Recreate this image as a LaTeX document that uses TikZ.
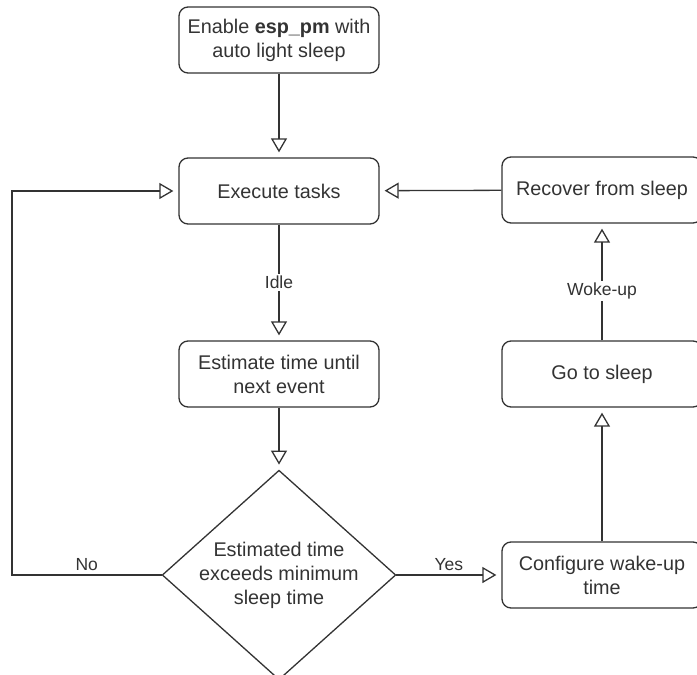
\documentclass[tikz,border=0pt]{standalone}
\usepackage{fontspec}
\setmainfont{Liberation Sans}
\usetikzlibrary{shapes.geometric,arrows.meta}
\definecolor{lineblack}{HTML}{333333}

\begin{document}
\begin{tikzpicture}[x=1pt,y=-1pt,
		box/.style={draw=lineblack, line width=1.3pt, rounded corners=9pt, minimum width=200pt, minimum height=66pt, align=center, text=lineblack, font=\fontsize{19.8}{24}\selectfont},
		decision/.style={diamond, draw=lineblack, line width=1.3pt, aspect=1.115, inner sep=0pt, minimum width=223pt, minimum height=200pt, align=center, text=lineblack, font=\fontsize{19.8}{24}\selectfont},
		flow/.style={draw=lineblack, line width=1.3pt, shorten >=5pt, -{Triangle[open,length=14pt,width=16pt]}},
		edgelabel/.style={fill=white, text=lineblack, inner sep=2pt, font=\fontsize{17.5}{20}\selectfont},
		sidelabel/.style={above, text=lineblack, inner sep=4pt, font=\fontsize{17.5}{20}\selectfont}]
		\useasboundingbox (0,0) rectangle (697,675);
		
		\node[box] (enable) at (279,40) {Enable \textbf{esp\_pm} with\\auto light sleep};
		\node[box] (execute) at (279,191) {Execute tasks};
		\node[box] (estimate) at (279,374) {Estimate time until\\next event};
		\node[decision] (check) at (279,575) {Estimated time\\exceeds minimum\\sleep time};
		\node[box] (configure) at (602,575) {Configure wake-up\\time};
		\node[box] (gosleep) at (602,374) {Go to sleep};
		\node[box] (recover) at (602,190) {Recover from sleep};
		\coordinate (noturn) at (12,575);
		
		\draw[flow] (enable) -- (execute);
		\draw[flow] (execute) -- node[edgelabel] {Idle} (estimate);
		\draw[flow] (estimate) -- (check);
		\draw[flow] (check) -- node[sidelabel] {Yes} (configure);
		\draw[flow] (configure) -- (gosleep);
		\draw[flow] (gosleep) -- node[edgelabel, pos=0.42] {Woke-up} (recover);
		\draw[flow] (recover) -- (execute);
		\draw[flow] (check.west) -- node[sidelabel] {No} (noturn) |- (execute);
	\end{tikzpicture}
\end{document}
